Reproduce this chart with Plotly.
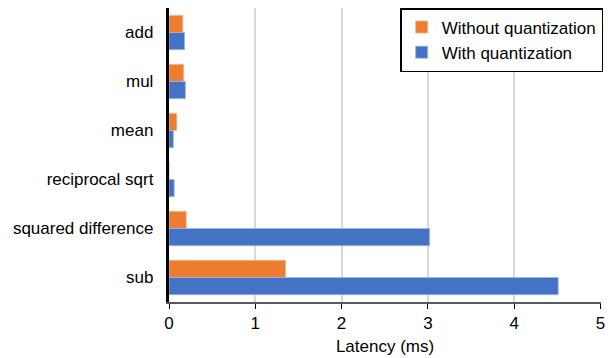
import plotly.graph_objects as go

categories = ["add", "mul", "mean", "reciprocal sqrt", "squared difference", "sub"]
without_q = [0.16, 0.17, 0.09, 0.0, 0.20, 1.35]
with_q = [0.18, 0.19, 0.05, 0.06, 3.02, 4.51]
x_ticks = [0, 1, 2, 3, 4, 5]

fig = go.Figure()
fig.add_trace(go.Bar(y=categories, x=without_q, orientation="h", name="Without quantization",
                     marker=dict(color="#ED7D31", line=dict(color="#F5B58E", width=0.8))))
fig.add_trace(go.Bar(y=categories, x=with_q, orientation="h", name="With quantization",
                     marker=dict(color="#4472C4", line=dict(color="#9DB5E3", width=0.8))))

font = "Liberation Sans, Arial, sans-serif"
# page body has an 8px default margin, so the figure is sized/offset to compensate
fig.update_layout(
    width=605, height=350,
    margin=dict(l=161, r=12, t=0, b=56, autoexpand=False),
    paper_bgcolor="white", plot_bgcolor="white",
    barmode="group", bargap=0.3, bargroupgap=0,
    font=dict(family=font, size=17, color="#000000"),
    showlegend=True,
    legend=dict(x=1.005, y=1.0, xanchor="right", yanchor="top",
                bgcolor="white", bordercolor="#000000", borderwidth=1.5,
                font=dict(size=17), traceorder="normal",
                itemwidth=30),
    xaxis=dict(range=[0, 5.006], tickvals=x_ticks, showgrid=True, gridcolor="#D9D9D9", gridwidth=1.5,
               showline=True, linecolor="#595959", linewidth=1.5, ticks="outside", ticklen=5,
               tickcolor="#000000", zeroline=False, automargin=False,
               title=dict(text="Latency (ms)", font=dict(size=17), standoff=8),
               tickfont=dict(size=17)),
    yaxis=dict(categoryorder="array", categoryarray=categories, autorange="reversed",
               showline=True, linecolor="#000000", linewidth=2.5, ticks="", showgrid=False,
               automargin=False, tickfont=dict(size=17), ticksuffix="  "),
)
fig.write_html("out.html")
